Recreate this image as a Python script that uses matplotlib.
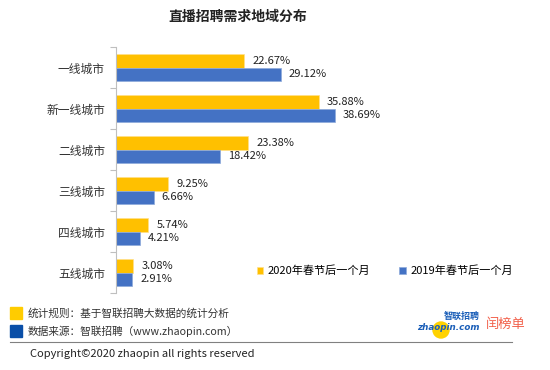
import matplotlib.pyplot as plt
from matplotlib.patches import Rectangle, Ellipse
from matplotlib.lines import Line2D

plt.rcParams['font.family'] = ['Noto Sans CJK SC', 'DejaVu Sans']

# data
cities = ["一线城市", "新一线城市", "二线城市", "三线城市", "四线城市", "五线城市"]
share_2020 = [22.67, 35.88, 23.38, 9.25, 5.74, 3.08]
share_2019 = [29.12, 38.69, 18.42, 6.66, 4.21, 2.91]
series_names = ["2020年春节后一个月", "2019年春节后一个月"]

yellow = '#FFC000'
blue = '#4472C4'
W, H = 550, 370

fig = plt.figure(figsize=(5.5, 3.7), dpi=100)
ax = fig.add_axes([116 / W, 1 - 293 / H, 404 / W, 246 / H])

ys = list(range(len(cities)))
bh = 0.33
b1 = ax.barh([y - bh / 2 for y in ys], share_2020, height=bh, color=yellow,
             edgecolor='#ffe08a', linewidth=0.5, label=series_names[0])
b2 = ax.barh([y + bh / 2 for y in ys], share_2019, height=bh, color=blue,
             edgecolor='#8eaadb', linewidth=0.5, label=series_names[1])

for y, v in zip(ys, share_2020):
    ax.text(v + 1.4, y - bh / 2, f"{v:.2f}%", va='center', ha='left', fontsize=8, color='#222222')
for y, v in zip(ys, share_2019):
    ax.text(v + 1.4, y + bh / 2, f"{v:.2f}%", va='center', ha='left', fontsize=8, color='#222222')

ax.set_xlim(0, 404 / 5.66)
ax.set_ylim(len(cities) - 0.5, -0.5)

# tick marks at category boundaries, labels at centers
ax.set_yticks([y - 0.5 for y in range(len(cities) + 1)])
ax.set_yticklabels([])
ax.tick_params(axis='y', which='major', length=4, color='#bfbfbf', direction='out')
ax.set_yticks(ys, minor=True)
ax.set_yticklabels(cities, minor=True, fontsize=8.5, color='#333333')
ax.tick_params(axis='y', which='minor', length=0, pad=8)
ax.set_xticks([])
for s in ['top', 'right', 'bottom']:
    ax.spines[s].set_visible(False)
ax.spines['left'].set_color('#bfbfbf')

ax.legend(handles=[b1, b2], loc='center', bbox_to_anchor=(385 / W, 1 - 271 / H),
          bbox_transform=fig.transFigure, ncol=2, frameon=False, fontsize=8,
          handlelength=0.6, handleheight=0.6, handletextpad=0.4, columnspacing=2.6)

fig.text(238 / W, 1 - 17 / H, "直播招聘需求地域分布", ha='center', va='center',
         fontsize=10, fontweight='bold', color='#222222')

# footer
fig.add_artist(Rectangle((10 / W, 1 - 319 / H), 12 / W, 12 / H, color='#FFCC00',
                         transform=fig.transFigure))
fig.add_artist(Rectangle((10 / W, 1 - 337 / H), 12 / W, 12 / H, color='#0A4FA8',
                         transform=fig.transFigure))
fig.text(28 / W, 1 - 313 / H, "统计规则：基于智联招聘大数据的统计分析", va='center',
         fontsize=7.7, color='#333333')
fig.text(28 / W, 1 - 331 / H, "数据来源：智联招聘（www.zhaopin.com）", va='center',
         fontsize=7.7, color='#333333')
fig.add_artist(Line2D([10 / W, 512 / W], [1 - 342 / H, 1 - 342 / H], color='#808080',
                      linewidth=0.8, transform=fig.transFigure))
fig.text(30 / W, 1 - 354 / H, "Copyright©2020 zhaopin all rights reserved", va='center',
         fontsize=8, color='#222222')

# logos
fig.add_artist(Ellipse((441 / W, 1 - 330 / H), 16 / W, 16 / H, color='#FFD200',
                       transform=fig.transFigure))
fig.text(448 / W, 1 - 328 / H, "zhaopin.com", ha='center', va='center', fontsize=6.3,
         fontweight='bold', style='italic', color='#1a5eb8', family='DejaVu Sans')
fig.text(462 / W, 1 - 316 / H, "智联招聘", ha='center', va='center', fontsize=6.5,
         fontweight='bold', color='#1a5eb8')
fig.text(506 / W, 1 - 324 / H, "闰榜单", ha='center', va='center', fontsize=9.5,
         color='#F2604A')

fig.savefig('out.png', dpi=100)
